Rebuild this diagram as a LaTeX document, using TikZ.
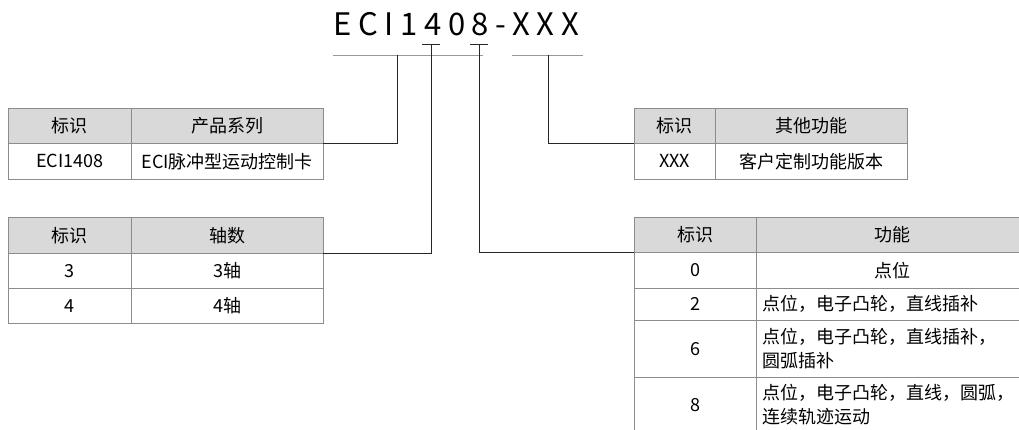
\documentclass[tikz,border=0pt]{standalone}
\usepackage{fontspec}
\setmainfont{Noto Sans CJK SC}
\begin{document}
\begin{tikzpicture}[x=1pt,y=-1pt]
      \useasboundingbox (0,0) rectangle (1019,430);
      \tikzstyle{every node}=[draw=black!45, anchor=north west, inner sep=0pt,
        font=\fontsize{18}{24}\selectfont]
      \tikzstyle{head}=[fill=black!15]
      \tikzstyle{wire}=[draw=black!85, line width=0.8pt]
      \tikzstyle{rule}=[draw=black!40, line width=0.8pt]
      \tikzstyle{desc}=[text width=260pt, align=left, inner xsep=6pt]

      % model code
      \path (333,36) node[draw=none, anchor=base west,
        font=\fontsize{31}{36}\selectfont\addfontfeature{LetterSpace=21.5}] (code) {ECI1408-XXX};

      % product series
      \path (8,108) node[head, minimum width=123, minimum height=35] (pa) {标识}
            (131,108) node[head, minimum width=192, minimum height=35] (pb) {产品系列}
            (8,143) node[minimum width=123, minimum height=36] (pc) {ECI1408}
            (131,143) node[minimum width=192, minimum height=36] (pd) {ECI脉冲型运动控制卡};

      % axes
      \path (8,217) node[head, minimum width=123, minimum height=36] (aa) {标识}
            (131,217) node[head, minimum width=192, minimum height=36] (ab) {轴数};
      \foreach \v/\y in {3/253, 4/288}
      {
        \path (8,\y) node[minimum width=123, minimum height=35] (ka\v) {\v}
              (131,\y) node[minimum width=192, minimum height=35] (kb\v) {{\v}轴};
      }

      % custom version
      \path (634,108) node[head, minimum width=81, minimum height=35] (xa) {标识}
            (715,108) node[head, minimum width=192, minimum height=35] (xb) {其他功能}
            (634,143) node[minimum width=81, minimum height=36] (xc) {XXX}
            (715,143) node[minimum width=192, minimum height=36] (xd) {客户定制功能版本};

      % functions
      \path (634,217) node[head, minimum width=122, minimum height=35] (fa) {标识}
            (756,217) node[head, minimum width=272, minimum height=35] (fb) {功能};
      \path (634,252) node[minimum width=122, minimum height=36] (g0) {0}
            (756,252) node[minimum width=272, minimum height=36] (h0) {点位};
      \foreach \v/\y/\h/\t in {2/288/32/{点位，电子凸轮，直线插补},
                               6/320/57/{点位，电子凸轮，直线插补，\\圆弧插补},
                               8/377/55/{点位，电子凸轮，直线，圆弧，\\连续轨迹运动}}
      {
        \path (634,\y) node[minimum width=122, minimum height=\h] (g\v) {\v}
              (756,\y) node[desc, minimum width=272, minimum height=\h] (h\v) {\t};
      }

      % connectors
      \coordinate (l1) at (333,55);
      \coordinate (l2) at (483,55);
      \coordinate (r1) at (512,55);
      \coordinate (r2) at (583,55);
      \coordinate (k1) at (397,55);
      \coordinate (k2) at (548,55);
      \coordinate (t4) at (431,44);
      \coordinate (t8) at (479,44);
      \draw [rule] (l1) -- (l2);
      \draw [rule] (r1) -- (r2);
      \draw [wire] (t4) +(-9,0) -- +(9,0);
      \draw [wire] (t8) +(-9,0) -- +(9,0);
      \draw [wire] (k1) |- (pb.south east);
      \draw [wire] (t4) |- (ab.south east);
      \draw [wire] (t8) |- (fa.south west);
      \draw [wire] (k2) |- (xa.south west);
    \end{tikzpicture}
\end{document}
